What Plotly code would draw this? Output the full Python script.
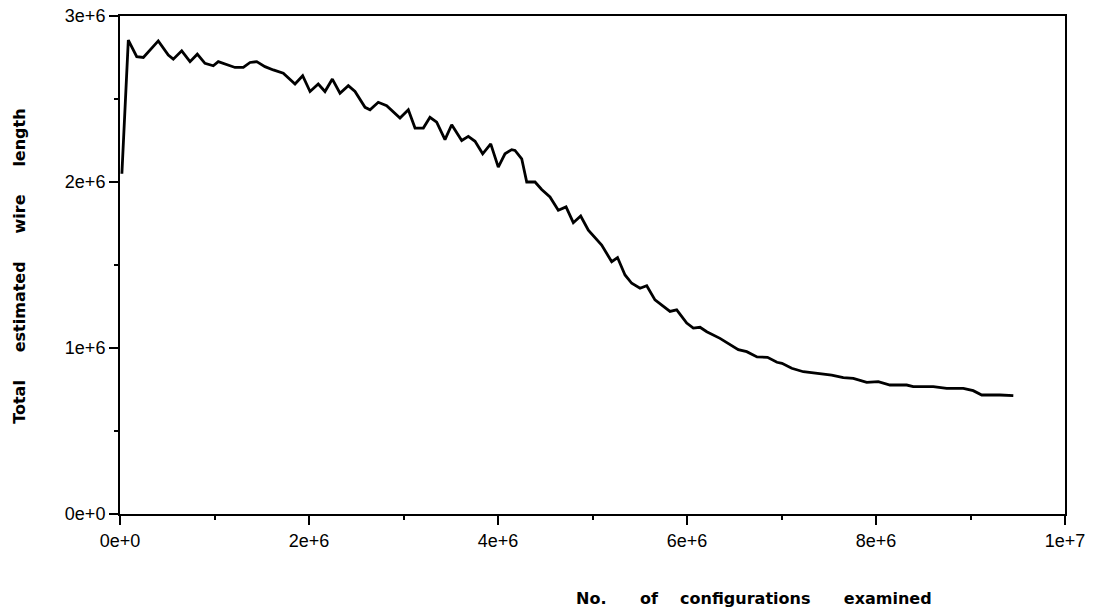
import plotly.graph_objects as go

# Number of configurations examined (millions) and total estimated wire length (millions)
configs_m = [0.02, 0.088, 0.177, 0.247, 0.405, 0.511, 0.564, 0.653, 0.741, 0.818, 0.899, 0.987,
             1.040, 1.129, 1.217, 1.305, 1.376, 1.447, 1.534, 1.622, 1.728, 1.852, 1.933, 2.011,
             2.098, 2.169, 2.247, 2.328, 2.416, 2.487, 2.593, 2.646, 2.733, 2.822, 2.963, 3.051,
             3.122, 3.210, 3.280, 3.351, 3.439, 3.510, 3.616, 3.686, 3.757, 3.838, 3.923, 4.003,
             4.074, 4.145, 4.180, 4.251, 4.304, 4.392, 4.462, 4.550, 4.638, 4.720, 4.797, 4.875,
             4.956, 5.097, 5.203, 5.265, 5.344, 5.415, 5.503, 5.574, 5.661, 5.820, 5.891, 5.997,
             6.067, 6.138, 6.209, 6.349, 6.543, 6.632, 6.741, 6.852, 6.952, 7.005, 7.108, 7.231,
             7.442, 7.531, 7.654, 7.760, 7.902, 8.024, 8.148, 8.325, 8.394, 8.606, 8.748, 8.924,
             9.029, 9.119, 9.312, 9.453]
wire_m = [2.05, 2.855, 2.755, 2.75, 2.85, 2.765, 2.74, 2.79, 2.725, 2.77, 2.715, 2.70,
          2.725, 2.705, 2.69, 2.69, 2.72, 2.725, 2.695, 2.675, 2.655, 2.59, 2.64, 2.545,
          2.59, 2.545, 2.62, 2.535, 2.58, 2.545, 2.45, 2.435, 2.48, 2.46, 2.385, 2.435,
          2.325, 2.325, 2.39, 2.36, 2.255, 2.345, 2.25, 2.275, 2.245, 2.17, 2.23, 2.09,
          2.17, 2.195, 2.19, 2.14, 2.0, 2.0, 1.955, 1.91, 1.83, 1.85, 1.755, 1.795,
          1.71, 1.62, 1.52, 1.545, 1.44, 1.39, 1.36, 1.375, 1.29, 1.22, 1.23, 1.15,
          1.12, 1.125, 1.098, 1.058, 0.99, 0.978, 0.946, 0.944, 0.914, 0.908, 0.878, 0.857,
          0.843, 0.837, 0.821, 0.817, 0.793, 0.797, 0.777, 0.777, 0.767, 0.767, 0.757, 0.757,
          0.743, 0.717, 0.717, 0.713]

x_tick_vals = [0, 2e6, 4e6, 6e6, 8e6, 1e7]
x_tick_labels = ["0e+0", "2e+6", "4e+6", "6e+6", "8e+6", "1e+7"]
y_tick_vals = [0, 1e6, 2e6, 3e6]
y_tick_labels = ["0e+0", "1e+6", "2e+6", "3e+6"]

NB = "\u00a0"
x_title = ("No." + NB * 6 + "of" + NB * 4 + "configurations" + NB * 6 + "examined")
y_title = ("Total" + NB * 5 + "estimated" + NB * 5 + "wire" + NB * 5 + "length")

xs = [v * 1e6 for v in configs_m]
ys = [v * 1e6 for v in wire_m]

fig = go.Figure()
fig.add_trace(go.Scatter(x=xs, y=ys, mode="lines",
                         line=dict(color="black", width=2.8), showlegend=False,
                         hoverinfo="skip"))

axis_common = dict(
    showline=True, linecolor="black", linewidth=2, mirror=True,
    showgrid=False, zeroline=False, automargin=False,
    ticks="outside", ticklen=9, tickwidth=2, tickcolor="black",
    tickfont=dict(family="Liberation Sans, Arial, sans-serif", size=18, color="black"),
)

fig.update_xaxes(range=[0, 1e7], tickvals=x_tick_vals, ticktext=x_tick_labels,
                 minor=dict(dtick=1e6, ticks="outside", ticklen=4, tickwidth=1.5, tickcolor="black"),
                 **axis_common)
fig.update_yaxes(range=[0, 3e6], tickvals=y_tick_vals, ticktext=y_tick_labels,
                 minor=dict(dtick=5e5, ticks="outside", ticklen=4, tickwidth=1.5, tickcolor="black"),
                 **axis_common)

title_font = dict(family="DejaVu Sans, sans-serif", size=16, color="black", weight="bold")
fig.update_layout(
    width=1096, height=613,
    margin=dict(l=120, r=31, t=16, b=99),
    paper_bgcolor="white", plot_bgcolor="white",
    annotations=[
        dict(text=x_title, xref="paper", yref="paper", x=0.671, y=-0.169,
             showarrow=False, font=title_font, xanchor="center", yanchor="middle"),
        dict(text=y_title, xref="paper", yref="paper", x=-0.106, y=0.498, textangle=-90,
             showarrow=False, font=title_font, xanchor="center", yanchor="middle"),
    ],
)

fig.write_html("out.html",
               config={"displayModeBar": False},
               post_script="document.body.style.margin='0';document.body.style.overflow='hidden';")
